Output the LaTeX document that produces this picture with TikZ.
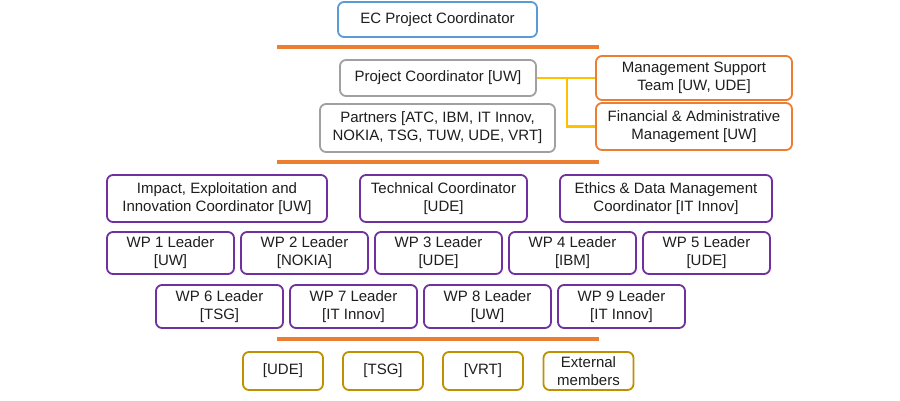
\documentclass[tikz,border=0pt]{standalone}
\usepackage{fontspec}
\setmainfont{Liberation Sans}
\usepackage{xcolor}
\definecolor{sky}{RGB}{91,155,213}
\definecolor{rust}{RGB}{237,125,49}
\definecolor{ash}{RGB}{160,160,160}
\definecolor{plum}{RGB}{112,48,160}
\definecolor{gold}{RGB}{191,144,0}
\definecolor{sun}{RGB}{255,192,0}
\definecolor{ink}{RGB}{30,30,30}
\usetikzlibrary{calc}
\tikzset{
  %% boxes
  orgbox/.style={draw, line width=1.8pt, rounded corners=6pt, fill=white,
                 align=center, inner sep=0pt, text=ink,
                 font=\fontsize{15}{18}\selectfont},
  ecbox/.style={orgbox, draw=sky},
  mgmtbox/.style={orgbox, draw=ash},
  suppbox/.style={orgbox, draw=rust},
  leadbox/.style={orgbox, draw=plum},
  advbox/.style={orgbox, draw=gold},
  %% lines
  rule/.style={draw=rust, line width=4pt},
  link/.style={draw=sun, line width=2.5pt},
}

\begin{document}
\begin{tikzpicture}[x=1pt,y=-1pt]
\useasboundingbox (0,0) rectangle (900,400);

% top level
\node[ecbox, minimum width=199pt, minimum height=35pt] (ec) at (437.5,19.5) {EC Project Coordinator};
\draw[rule] (277,47) -- (599,47);

% management
\node[mgmtbox, minimum width=196pt, minimum height=36pt] (pc) at (438,78) {Project Coordinator [UW]};
\node[mgmtbox, minimum width=235pt, minimum height=48pt] (partners) at (437.5,128) {Partners [ATC, IBM, IT Innov,\\NOKIA, TSG, TUW, UDE, VRT]};
\node[suppbox, minimum width=196pt, minimum height=44pt] (mst) at (694,78) {Management Support\\Team [UW, UDE]};
\node[suppbox, minimum width=196pt, minimum height=47pt] (fam) at (694,126.5) {Financial \& Administrative\\Management [UW]};
\coordinate (split) at (567,78);
\draw[link] (pc.east) -- (mst.west);
\draw[link] (split) |- (fam.west);
\draw[rule] (277,162) -- (599,162);

% coordinators
\node[leadbox, minimum width=220pt, minimum height=47pt] (impact) at (217,198.5) {Impact, Exploitation and\\Innovation Coordinator [UW]};
\node[leadbox, minimum width=167pt, minimum height=47pt] (tech) at (443.5,198.5) {Technical Coordinator\\{[UDE]}};
\node[leadbox, minimum width=212pt, minimum height=47pt] (ethics) at (666,198.5) {Ethics \& Data Management\\Coordinator [IT Innov]};

% work package leaders
\node[leadbox, minimum width=127pt, minimum height=42pt] (wp1) at (170.5,253) {WP 1 Leader\\{[UW]}};
\node[leadbox, minimum width=127pt, minimum height=42pt] (wp2) at (304.5,253) {WP 2 Leader\\{[NOKIA]}};
\node[leadbox, minimum width=127pt, minimum height=42pt] (wp3) at (438.5,253) {WP 3 Leader\\{[UDE]}};
\node[leadbox, minimum width=127pt, minimum height=42pt] (wp4) at (572.5,253) {WP 4 Leader\\{[IBM]}};
\node[leadbox, minimum width=127pt, minimum height=42pt] (wp5) at (706.5,253) {WP 5 Leader\\{[UDE]}};
\node[leadbox, minimum width=127pt, minimum height=43pt] (wp6) at (219.5,306.5) {WP 6 Leader\\{[TSG]}};
\node[leadbox, minimum width=127pt, minimum height=43pt] (wp7) at (353.5,306.5) {WP 7 Leader\\{[IT Innov]}};
\node[leadbox, minimum width=127pt, minimum height=43pt] (wp8) at (487.5,306.5) {WP 8 Leader\\{[UW]}};
\node[leadbox, minimum width=127pt, minimum height=43pt] (wp9) at (621.5,306.5) {WP 9 Leader\\{[IT Innov]}};
\draw[rule] (277,339) -- (599,339);

% advisory
\node[advbox, minimum width=80pt, minimum height=38pt] (ude) at (283,371) {[UDE]};
\node[advbox, minimum width=80pt, minimum height=38pt] (tsg) at (383,371) {[TSG]};
\node[advbox, minimum width=80pt, minimum height=38pt] (vrt) at (483,371) {[VRT]};
\node[advbox, minimum width=90pt, minimum height=38pt] (ext) at (588.5,371) {External\\members};
\end{tikzpicture}
\end{document}
